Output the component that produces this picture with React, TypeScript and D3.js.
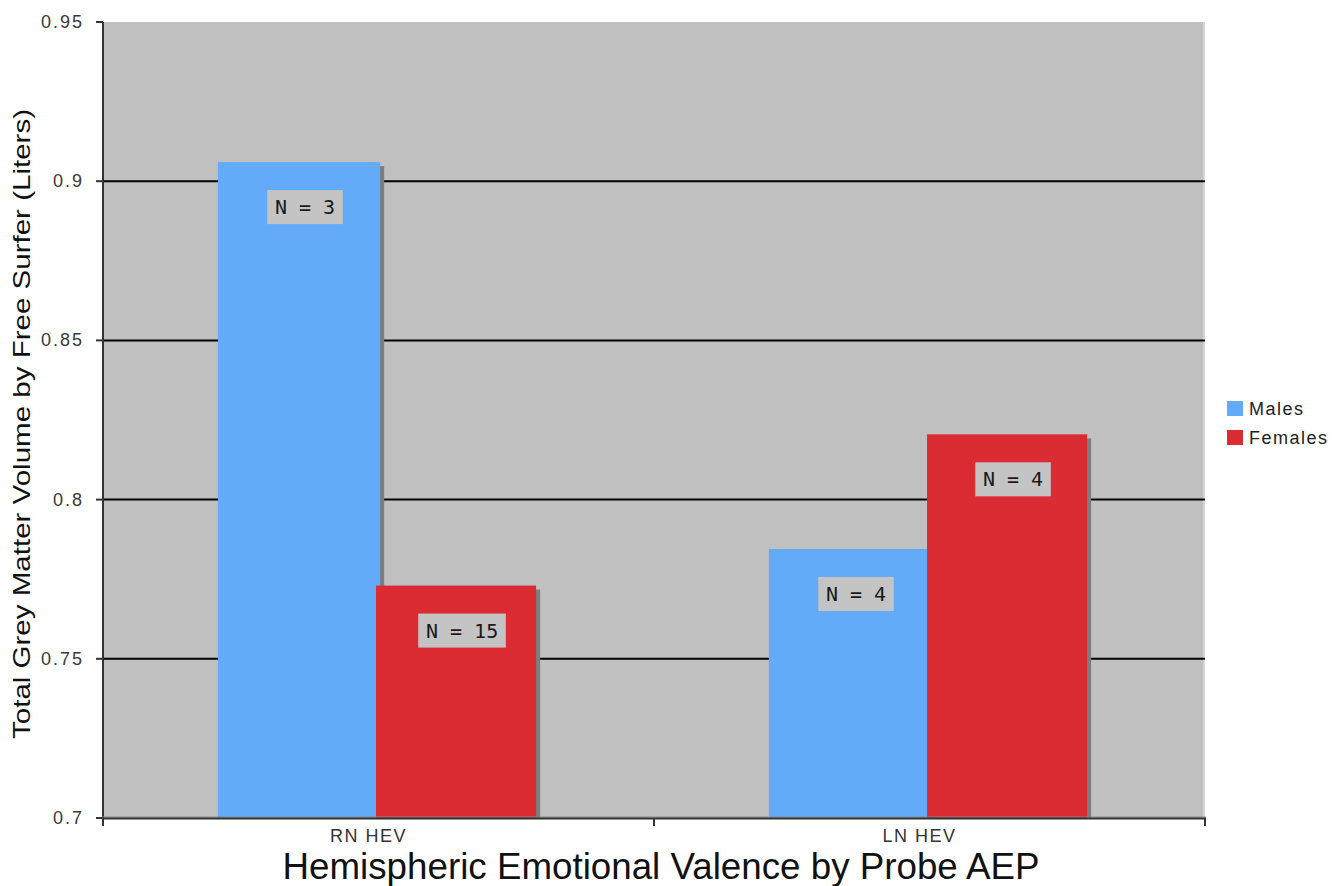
import React from "react";
import * as d3 from "d3";

const categories = ["RN HEV", "LN HEV"];
const seriesNames = ["Males", "Females"];
const males = [0.906, 0.7845];
const females = [0.773, 0.8205];
const maleN = ["N = 3", "N = 4"];
const femaleN = ["N = 15", "N = 4"];
const yTicks = [0.7, 0.75, 0.8, 0.85, 0.9, 0.95];
const yTickLabels = ["0.7", "0.75", "0.8", "0.85", "0.9", "0.95"];

const W = 1333;
const H = 886;
const left = 103;
const right = 1205;
const top = 22;
const bottom = 818;

const BLUE = "#63aaf8";
const RED = "#dc2c33";
const BG = "#c0c0c0";

export default function App() {
  const y = d3.scaleLinear().domain([0.7, 0.95]).range([bottom, top]);
  const x = d3.scaleBand<string>().domain(categories).range([left, right]).padding(0);
  const bw = x.bandwidth();
  const colors = [BLUE, RED];
  const series = [males, females];
  const labels = [maleN, femaleN];
  const barGeom = [
    { off: -0.2915 * bw, w: 0.2945 * bw },
    { off: -0.0045 * bw, w: 0.2905 * bw },
  ];
  const labelFont = "'DejaVu Sans Mono', monospace";
  const tickFont = "'Liberation Sans', Arial, sans-serif";

  return (
    <svg width={W} height={H} style={{ position: "absolute", left: 0, top: 0, background: "#fff" }}>
      <rect x={left} y={top} width={right - left} height={bottom - top} fill={BG} />
      <line x1={right - 1} x2={right - 1} y1={top} y2={bottom} stroke="#d6d6d6" strokeWidth={2} />
      {yTicks.filter((t) => t > 0.7 && t < 0.95).map((t) => (
        <line key={t} x1={left} x2={right} y1={y(t)} y2={y(t)} stroke="#000" strokeWidth={2} />
      ))}
      {categories.map((c, ci) => {
        const cx = (x(c) as number) + bw / 2;
        return (
          <g key={c}>
            {series.map((s, si) => {
              const g = barGeom[si];
              const bx = cx + g.off;
              const by = y(s[ci]);
              const bh = bottom - by;
              return (
                <g key={si}>
                  <rect x={bx + 4} y={by + 4} width={g.w} height={bh - 4} fill="#7d7d7d" />
                  <rect x={bx} y={by} width={g.w} height={bh} fill={colors[si]} />
                </g>
              );
            })}
            {series.map((s, si) => {
              const g = barGeom[si];
              const bcx = cx + g.off + g.w / 2;
              const by = y(s[ci]);
              const txt = labels[si][ci];
              const tw = txt.length * 12.1;
              const boxW = tw + 15;
              return (
                <g key={"l" + si}>
                  <rect x={bcx - boxW / 2 + 6} y={by + 28} width={boxW} height={34} fill="#c4c4c4" />
                  <text
                    x={bcx + 6}
                    y={by + 28 + 24}
                    textAnchor="middle"
                    fontFamily={labelFont}
                    fontSize={20}
                    fill="#1a1a1a"
                  >
                    {txt}
                  </text>
                </g>
              );
            })}
          </g>
        );
      })}
      <line x1={left} x2={left} y1={top} y2={bottom + 1} stroke="#333" strokeWidth={2} />
      <line x1={left - 1} x2={right + 1} y1={bottom - 1} y2={bottom - 1} stroke="#8a8a8a" strokeWidth={1} />
      <line x1={left} x2={right + 1} y1={bottom + 0.5} y2={bottom + 0.5} stroke="#333" strokeWidth={2} />
      {yTicks.map((t, i) => (
        <g key={t}>
          <line x1={left - 7} x2={left} y1={y(t)} y2={y(t)} stroke="#333" strokeWidth={2} />
          <text
            x={84}
            y={y(t) + 6}
            textAnchor="end"
            fontFamily={tickFont}
            fontSize={18}
            letterSpacing={2}
            fill="#3a3a3a"
          >
            {yTickLabels[i]}
          </text>
        </g>
      ))}
      {[left, left + bw, right].map((tx, i) => (
        <line key={i} x1={tx} x2={tx} y1={bottom} y2={bottom + 8} stroke="#333" strokeWidth={2} />
      ))}
      {categories.map((c) => (
        <text
          key={c}
          x={(x(c) as number) + bw / 2 - 10}
          y={842}
          textAnchor="middle"
          fontFamily={tickFont}
          fontSize={18}
          letterSpacing={1.5}
          fill="#333"
        >
          {c}
        </text>
      ))}
      <text
        x={661}
        y={879}
        textAnchor="middle"
        fontFamily={tickFont}
        fontSize={36}
        textLength={757}
        lengthAdjust="spacingAndGlyphs"
        fill="#111"
      >
        Hemispheric Emotional Valence by Probe AEP
      </text>
      <text
        transform="translate(30,424) rotate(-90)"
        textAnchor="middle"
        fontFamily={tickFont}
        fontSize={24}
        textLength={630}
        lengthAdjust="spacingAndGlyphs"
        fill="#111"
      >
        Total Grey Matter Volume by Free Surfer (Liters)
      </text>
      {seriesNames.map((n, i) => (
        <g key={n} transform={`translate(1227, ${401 + i * 29})`}>
          <rect x={0} y={0} width={16} height={15} fill={colors[i]} />
          <text x={22} y={14} fontFamily={tickFont} fontSize={18} letterSpacing={1.5} fill="#222">
            {n}
          </text>
        </g>
      ))}
    </svg>
  );
}
